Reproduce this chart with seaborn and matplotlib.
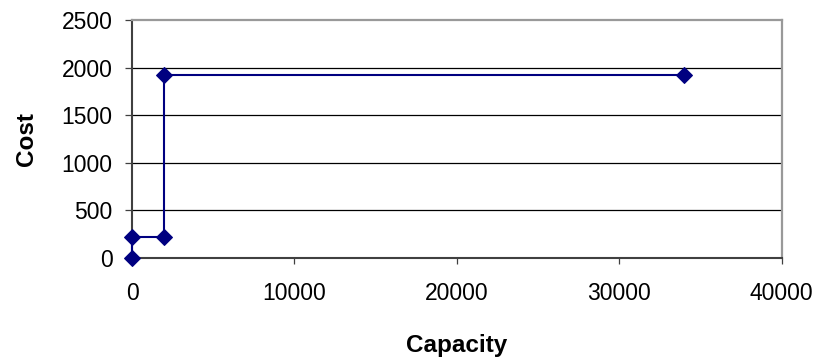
import matplotlib
matplotlib.use("Agg")
import matplotlib.pyplot as plt
import seaborn as sns
import pandas as pd

# Step cost curve: cost as a function of installed capacity
capacity = [0, 0, 2000, 2000, 34000]
cost = [0, 220, 220, 1920, 1920]
x_ticks = [0, 10000, 20000, 30000, 40000]
y_ticks = [0, 500, 1000, 1500, 2000, 2500]

df = pd.DataFrame({"Capacity": capacity, "Cost": cost})

sns.set_theme(style="white")
plt.rcParams["font.family"] = ["Liberation Sans", "DejaVu Sans"]

fig = plt.figure(figsize=(8.3, 3.6), dpi=100)
ax = fig.add_axes([132 / 830, 1 - 257.7 / 360, (781.5 - 132) / 830, (257.7 - 20) / 360])

sns.lineplot(data=df, x="Capacity", y="Cost", estimator=None, sort=False,
             color="#000080", linewidth=1.5, marker="D", markersize=7.8,
             markeredgecolor="#000080", markerfacecolor="#000080",
             clip_on=False, zorder=5, ax=ax)

ax.set_xlim(0, 40000)
ax.set_ylim(0, 2500)
ax.set_xticks(x_ticks)
ax.set_yticks(y_ticks)
ax.set_xticklabels([str(v) for v in x_ticks], fontsize=16.5)
ax.set_yticklabels([str(v) for v in y_ticks], fontsize=16.5)

for v in y_ticks[1:-1]:
    ax.axhline(v, color="black", linewidth=0.9, zorder=0)

for side in ("top", "right"):
    ax.spines[side].set_color("#999999")
    ax.spines[side].set_linewidth(1.6)
for side in ("left", "bottom"):
    ax.spines[side].set_color("#404040")
    ax.spines[side].set_linewidth(1.5)

ax.tick_params(axis="x", direction="out", length=4.5, width=0.9, color="#404040",
               bottom=True, pad=13, labelcolor="black")
ax.tick_params(axis="y", direction="out", length=5, width=0.9, color="#404040",
               left=True, pad=9, labelcolor="black")

ax.set_xlabel("Capacity", fontsize=17.5, fontweight="bold", color="black", labelpad=21)
ax.set_ylabel("Cost", fontsize=17.5, fontweight="bold", color="black", labelpad=17)

fig.savefig("out.png", dpi=100)
